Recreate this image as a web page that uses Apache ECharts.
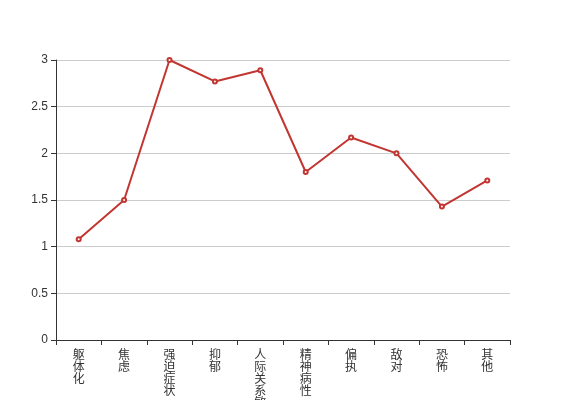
<!DOCTYPE html>
<html>
<head>
<meta charset="utf-8">
<script src="https://cdn.jsdelivr.net/npm/echarts@6/dist/echarts.min.js"></script>
<style>
  html, body { margin: 0; padding: 0; }
  #main { width: 567px; height: 400px; }
</style>
</head>
<body>
<div id="main"></div>
<script>
var categories = ['躯体化', '焦虑', '强迫症状', '抑郁', '人际关系敏感', '精神病性', '偏执', '敌对', '恐怖', '其他'];
var scores = [1.08, 1.5, 3.0, 2.77, 2.89, 1.8, 2.17, 2.0, 1.43, 1.71];

var myChart = echarts.init(document.getElementById('main'));

var option = {
  animation: false,
  grid: {
    left: 56,
    right: 57,
    top: 60,
    bottom: 60,
    containLabel: false,
    outerBoundsMode: 'none'
  },
  xAxis: {
    type: 'category',
    data: categories,
    boundaryGap: true,
    axisLine: { lineStyle: { color: '#333' } },
    axisTick: { show: true, length: 5, lineStyle: { color: '#333' } },
    axisLabel: {
      interval: 0,
      color: '#333',
      fontSize: 12,
      lineHeight: 12,
      fontFamily: 'Noto Sans CJK SC',
      formatter: function (v) { return v.split('').join('\n'); }
    }
  },
  yAxis: {
    type: 'value',
    min: 0,
    max: 3,
    interval: 0.5,
    axisLine: { show: true, lineStyle: { color: '#333' } },
    axisTick: { show: true, length: 5, lineStyle: { color: '#333' } },
    axisLabel: { color: '#333', fontSize: 12 },
    splitLine: { lineStyle: { color: '#ccc' } }
  },
  series: [
    {
      type: 'line',
      data: scores,
      symbol: 'emptyCircle',
      symbolSize: 4,
      itemStyle: { color: '#c23531', borderWidth: 1 },
      lineStyle: { color: '#c23531', width: 2 }
    }
  ]
};

myChart.setOption(option);
</script>
</body>
</html>
